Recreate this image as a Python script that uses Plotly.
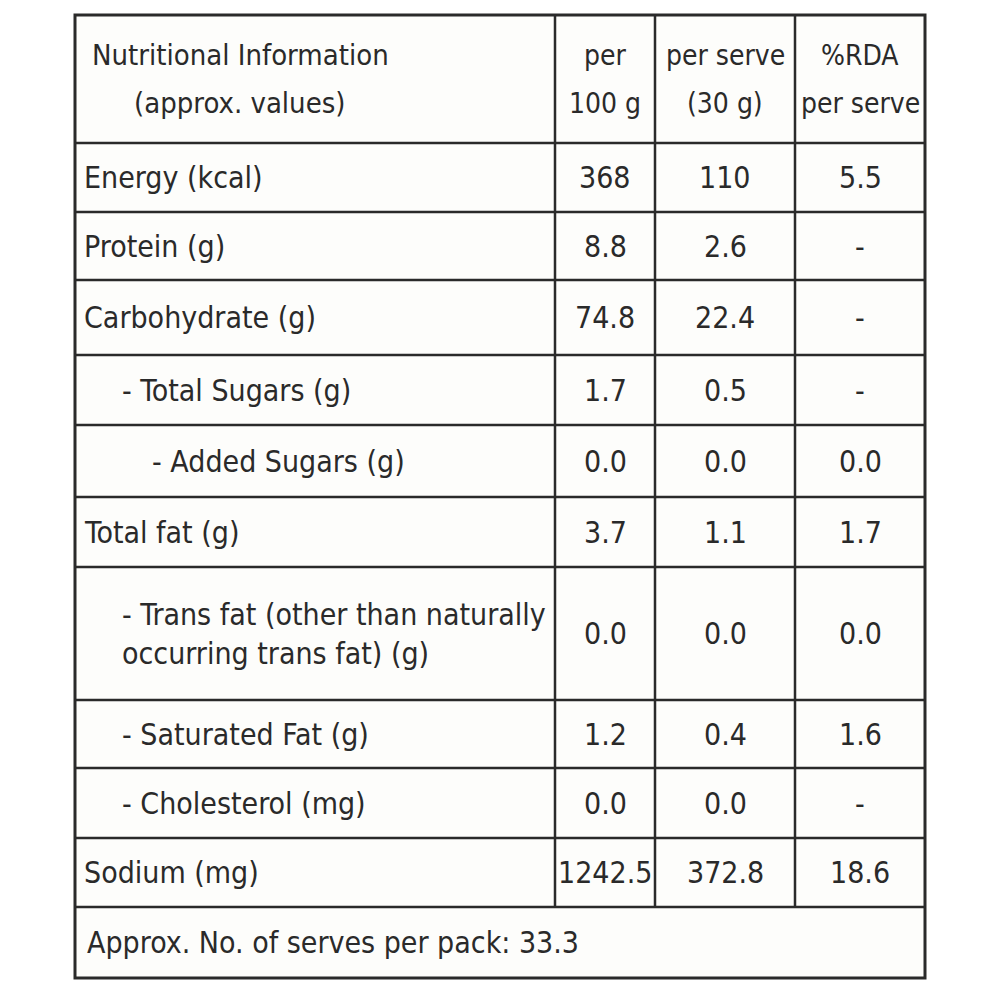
import plotly.graph_objects as go

header_label = ["Nutritional Information", "(approx. values)"]
col_headers = [["per", "100 g"], ["per serve", "(30 g)"], ["%RDA", "per serve"]]
nutrients = ["Energy (kcal)", "Protein (g)", "Carbohydrate (g)", "- Total Sugars (g)",
             "- Added Sugars (g)", "Total fat (g)",
             "- Trans fat (other than naturally<br>occurring trans fat) (g)",
             "- Saturated Fat (g)", "- Cholesterol (mg)", "Sodium (mg)"]
indent = [0, 0, 0, 1, 2, 0, 1, 1, 1, 0]
per100 = ["368", "8.8", "74.8", "1.7", "0.0", "3.7", "0.0", "1.2", "0.0", "1242.5"]
perserve = ["110", "2.6", "22.4", "0.5", "0.0", "1.1", "0.0", "0.4", "0.0", "372.8"]
rda = ["5.5", "-", "-", "-", "0.0", "1.7", "0.0", "1.6", "-", "18.6"]
footer = "Approx. No. of serves per pack: 33.3"

# layout geometry
L, R, T, B = 75, 925, 15, 978
cols = [555, 655, 795]
rows = [143, 212, 280, 355, 425, 497, 567, 700, 768, 838, 907]
FONT = "DejaVu Sans Condensed"
ink = "#2a2a2a"

fig = go.Figure()
shapes = [dict(type="rect", x0=L, x1=R, y0=T, y1=B, line=dict(color=ink, width=3),
               fillcolor="#fdfdfb", layer="below")]
for c in cols:
    shapes.append(dict(type="line", x0=c, x1=c, y0=T, y1=rows[-1], line=dict(color=ink, width=2.5)))
for r in rows:
    shapes.append(dict(type="line", x0=L, x1=R, y0=r, y1=r, line=dict(color=ink, width=2.5)))

ann = []
def txt(x, y, s, anchor="center", size=30):
    ann.append(dict(x=x, y=y, text=s, showarrow=False, xanchor=anchor, yanchor="middle",
                    align=anchor if anchor != "center" else "center",
                    font=dict(family=FONT, size=size, color=ink)))

txt(240, 55, header_label[0], size=29)
txt(240, 103, header_label[1], size=29)
centers = [(L + cols[0]) / 2, (cols[0] + cols[1]) / 2, (cols[1] + cols[2]) / 2, (cols[2] + R) / 2]
for i, h in enumerate(col_headers):
    txt(centers[i + 1], 55, h[0], size=28)
    txt(centers[i + 1], 103, h[1], size=28)
for i, n in enumerate(nutrients):
    yc = (rows[i] + rows[i + 1]) / 2
    txt(82 + indent[i] * 30 + (8 if indent[i] else 0), yc, n, anchor="left")
    txt(centers[1], yc, per100[i])
    txt(centers[2], yc, perserve[i])
    txt(centers[3], yc, rda[i])
txt(85, (rows[-1] + B) / 2, footer, anchor="left")

fig.update_layout(width=1000, height=1000, margin=dict(l=0, r=0, t=0, b=0),
                  paper_bgcolor="white", plot_bgcolor="white", shapes=shapes, annotations=ann,
                  xaxis=dict(range=[8, 1008], visible=False),
                  yaxis=dict(range=[1008, 8], visible=False), showlegend=False)
fig.write_html("out.html")
